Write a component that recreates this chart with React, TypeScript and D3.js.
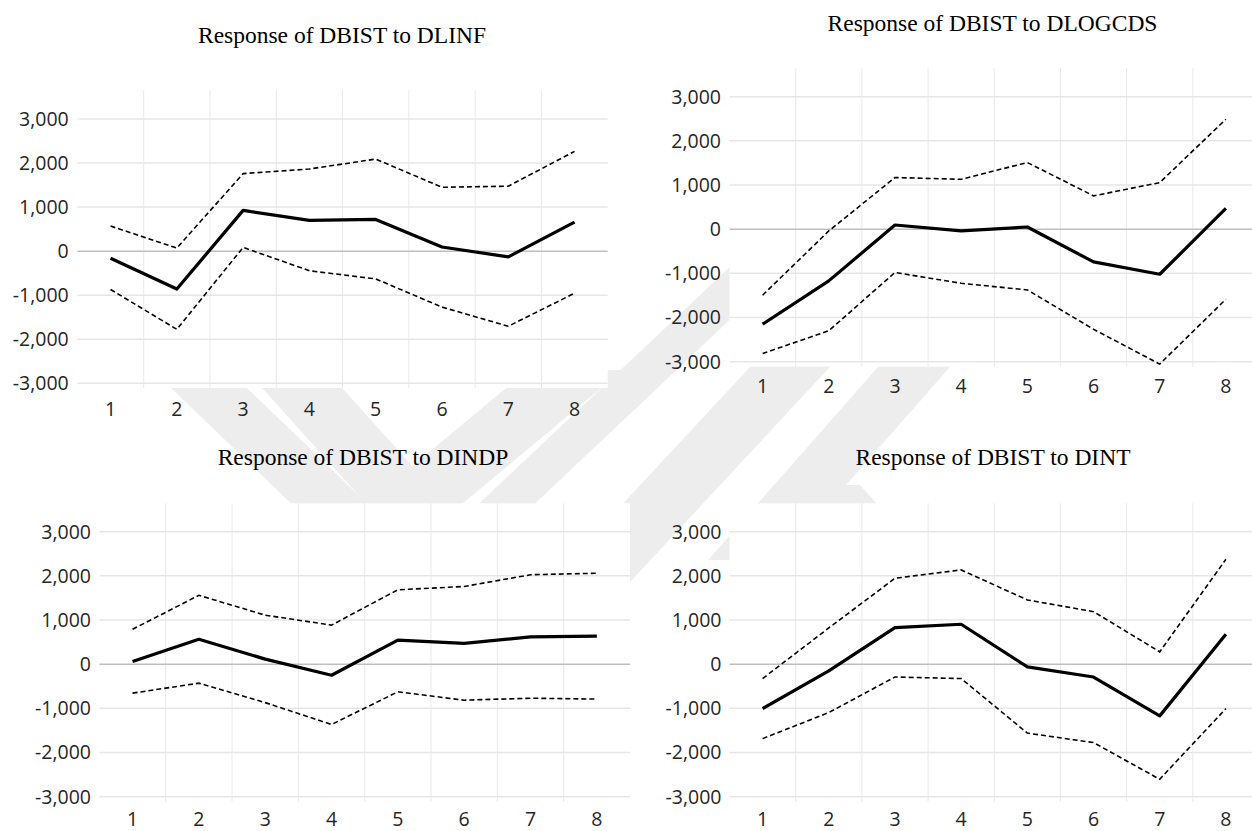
import { useEffect, useRef } from "react";
import * as d3 from "d3";

// horizon (periods) and y ticks
const periods = ["1", "2", "3", "4", "5", "6", "7", "8"];
const yTicks = [-3000, -2000, -1000, 0, 1000, 2000, 3000];

// Response of DBIST to DLINF
const linfResp = [-160, -860, 925, 700, 720, 95, -130, 660];
const linfUpper = [570, 70, 1760, 1865, 2090, 1450, 1475, 2265];
const linfLower = [-870, -1775, 85, -445, -630, -1270, -1705, -955];

// Response of DBIST to DLOGCDS
const logcdsResp = [-2150, -1170, 95, -40, 50, -740, -1020, 470];
const logcdsUpper = [-1495, -40, 1170, 1130, 1510, 755, 1055, 2490];
const logcdsLower = [-2815, -2300, -980, -1225, -1375, -2265, -3055, -1585];

// Response of DBIST to DINDP
const indpResp = [60, 565, 115, -250, 545, 470, 620, 635];
const indpUpper = [790, 1560, 1110, 885, 1685, 1760, 2025, 2060];
const indpLower = [-655, -430, -870, -1365, -625, -815, -770, -790];

// Response of DBIST to DINT
const intResp = [-1005, -150, 830, 905, -60, -290, -1170, 680];
const intUpper = [-325, 820, 1945, 2135, 1455, 1190, 280, 2375];
const intLower = [-1685, -1095, -290, -325, -1560, -1775, -2605, -1005];

const titles = [
  "Response of DBIST to DLINF",
  "Response of DBIST to DLOGCDS",
  "Response of DBIST to DINDP",
  "Response of DBIST to DINT",
];

const layout = [
  { left: 77.4, right: 607.7, yTop: 119, yBot: 383.3, gTop: 90, gBot: 388, lab: 68.7, xLab: 416, tY: 43, tX: 342 },
  { left: 729.5, right: 1259, yTop: 96.7, yBot: 361.7, gTop: 68.3, gBot: 366.7, lab: 721, xLab: 393, tY: 30.7, tX: 992.5 },
  { left: 99.4, right: 630, yTop: 531.7, yBot: 796.7, gTop: 503.3, gBot: 801.7, lab: 91, xLab: 826, tY: 465, tX: 363 },
  { left: 729.5, right: 1259, yTop: 531.7, yBot: 796.7, gTop: 503.3, gBot: 801.7, lab: 721.5, xLab: 826, tY: 465, tX: 993 },
];

// faint diagonal watermark stripes: [x at yRef, yRef, width, slope dx/dy, y0, y1]
const stripes = [
  [172, 389, 76, 1.04, 370, 520],
  [263, 389, 80, 0.9, 370, 520],
  [505, 389, 95, -1.2, 370, 520],
  [663, 330, 56, -1.06, 240, 560],
  [750, 367, 80, -0.93, 300, 700],
  [878, 367, 72, -0.88, 300, 560],
  [800, 485, 60, 0.9, 485, 520],
];

const fmt = d3.formatLocale({ decimal: ".", thousands: ",", grouping: [3], currency: ["", ""], minus: "-" }).format(",");

export default function App() {
  const ref = useRef<SVGSVGElement>(null);

  useEffect(() => {
    const svg = d3.select(ref.current);
    svg.selectAll("*").remove();

    svg.append("rect").attr("width", 1252).attr("height", 831).attr("fill", "#fff");

    const wm = svg.append("g").attr("fill", "#ededed");
    stripes.forEach(([x0, yr, w, s, y0, y1]) => {
      const xa = x0 + (y0 - yr) * s;
      const xb = x0 + (y1 - yr) * s;
      wm.append("polygon").attr("points", `${xa},${y0} ${xa + w},${y0} ${xb + w},${y1} ${xb},${y1}`);
    });

    const series = [
      [linfResp, linfUpper, linfLower],
      [logcdsResp, logcdsUpper, logcdsLower],
      [indpResp, indpUpper, indpLower],
      [intResp, intUpper, intLower],
    ];

    series.forEach(([resp, upper, lower], i) => {
      const L = layout[i];
      const g = svg.append("g");

      const x = d3.scaleBand().domain(periods).range([L.left, L.right]);
      const y = d3.scaleLinear().domain([-3000, 3000]).range([L.yBot, L.yTop]);

      g.append("rect")
        .attr("x", L.left)
        .attr("y", L.gTop)
        .attr("width", L.right - L.left)
        .attr("height", L.gBot - L.gTop)
        .attr("fill", "#fff");

      // vertical gridlines between categories
      g.selectAll("line.v")
        .data(periods.slice(1))
        .join("line")
        .attr("x1", d => x(d)!)
        .attr("x2", d => x(d)!)
        .attr("y1", L.gTop)
        .attr("y2", L.gBot)
        .attr("stroke", "#e9e9e9")
        .attr("stroke-width", 1);

      g.selectAll("line.h")
        .data(yTicks)
        .join("line")
        .attr("x1", L.left)
        .attr("x2", L.right)
        .attr("y1", d => y(d))
        .attr("y2", d => y(d))
        .attr("stroke", d => (d === 0 ? "#bfbfbf" : "#e6e6e6"))
        .attr("stroke-width", 1.5);

      g.selectAll("text.y")
        .data(yTicks)
        .join("text")
        .attr("x", L.lab)
        .attr("y", d => y(d))
        .attr("dy", "0.35em")
        .attr("text-anchor", "end")
        .attr("font-family", "'Open Sans', sans-serif")
        .attr("font-size", 19.5)
        .attr("fill", "#262626")
        .text(d => fmt(d));

      g.selectAll("text.x")
        .data(periods)
        .join("text")
        .attr("x", d => x(d)! + x.bandwidth() / 2)
        .attr("y", L.xLab)
        .attr("text-anchor", "middle")
        .attr("font-family", "'Open Sans', sans-serif")
        .attr("font-size", 19.5)
        .attr("fill", "#262626")
        .text(d => d);

      const line = d3
        .line<number>()
        .x((_, j) => x(periods[j])! + x.bandwidth() / 2)
        .y(d => y(d));

      [upper, lower].forEach(band => {
        g.append("path")
          .datum(band)
          .attr("fill", "none")
          .attr("stroke", "#000")
          .attr("stroke-width", 1.6)
          .attr("stroke-dasharray", "5,3")
          .attr("d", line);
      });

      g.append("path")
        .datum(resp)
        .attr("fill", "none")
        .attr("stroke", "#000")
        .attr("stroke-width", 3.2)
        .attr("stroke-linejoin", "round")
        .attr("d", line);

      svg.append("text")
        .attr("x", L.tX)
        .attr("y", L.tY)
        .attr("text-anchor", "middle")
        .attr("font-family", "'Liberation Serif', 'Times New Roman', serif")
        .attr("font-size", 23.5)
        .attr("fill", "#000")
        .text(titles[i]);
    });
  }, []);

  return (
    <svg
      ref={ref}
      width={1252}
      height={831}
      style={{ position: "absolute", left: 0, top: 0 }}
    />
  );
}
